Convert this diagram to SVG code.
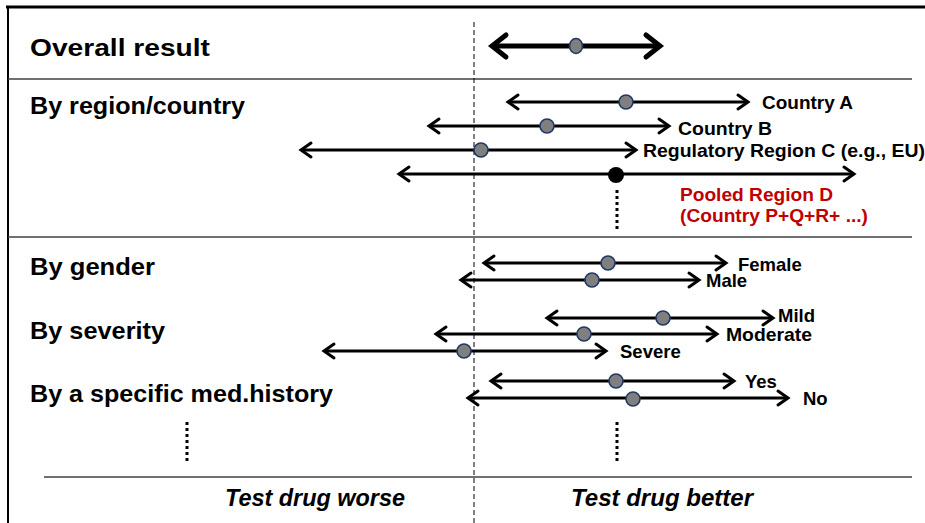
<svg xmlns="http://www.w3.org/2000/svg" width="925" height="523" viewBox="0 0 925 523">
<defs>
<style>
.lbl{font-family:"Liberation Sans",Arial,sans-serif;font-weight:bold;font-size:24px;fill:#000}
.rl{font-family:"Liberation Sans",Arial,sans-serif;font-weight:bold;font-size:18.5px;fill:#000}
.red{fill:#C00000}
.ax{font-family:"Liberation Sans",Arial,sans-serif;font-weight:bold;font-style:italic;font-size:23px;fill:#000}
.ci{stroke:#000;stroke-width:3;fill:none;marker-start:url(#h);marker-end:url(#h)}
.big{stroke:#000;stroke-width:5;fill:none;marker-start:url(#hb);marker-end:url(#hb)}
.dot{fill:#7F7F7F;stroke:#1F3864;stroke-width:1.6}
.sep{stroke:#404040;stroke-width:1.5}
.dots{stroke:#000;stroke-width:3;stroke-dasharray:3 3}
</style>
<marker id="h" markerUnits="userSpaceOnUse" viewBox="-12 -10 14 20" refX="0" refY="0" markerWidth="14" markerHeight="20" orient="auto-start-reverse" overflow="visible">
<path d="M-10,-7 L0,0 L-10,7" fill="none" stroke="#000" stroke-width="3" stroke-linecap="round" stroke-linejoin="miter"/>
</marker>
<marker id="hb" markerUnits="userSpaceOnUse" viewBox="-18 -14 20 28" refX="0" refY="0" markerWidth="20" markerHeight="28" orient="auto-start-reverse" overflow="visible">
<path d="M-14,-11 L0,0 L-14,11" fill="none" stroke="#000" stroke-width="5" stroke-linecap="round"/>
</marker>
</defs>
<rect width="925" height="523" fill="#fff"/>
<g id="frame">
<line x1="6" y1="7" x2="925" y2="7" stroke="#000" stroke-width="3"/>
<line x1="8" y1="6" x2="8" y2="523" stroke="#000" stroke-width="2"/>
<line class="sep" x1="8" y1="79" x2="912" y2="79"/>
<line class="sep" x1="8" y1="237" x2="912" y2="237"/>
<line class="sep" x1="44" y1="477" x2="912" y2="477"/>
<line x1="474" y1="22" x2="474" y2="523" stroke="#000" stroke-width="1" stroke-dasharray="5 3"/>
</g>
<g id="labels">
<text class="lbl" x="30" y="56" font-size="26" textLength="180" lengthAdjust="spacingAndGlyphs">Overall result</text>
<text class="lbl" x="30" y="114" textLength="215" lengthAdjust="spacingAndGlyphs">By region/country</text>
<text class="lbl" x="30" y="275" textLength="125" lengthAdjust="spacingAndGlyphs">By gender</text>
<text class="lbl" x="30" y="339" textLength="135" lengthAdjust="spacingAndGlyphs">By severity</text>
<text class="lbl" x="30" y="402" textLength="303" lengthAdjust="spacingAndGlyphs">By a specific med.history</text>
<text class="ax" x="225" y="506" textLength="180" lengthAdjust="spacingAndGlyphs">Test drug worse</text>
<text class="ax" x="571" y="506" textLength="182" lengthAdjust="spacingAndGlyphs">Test drug better</text>
</g>
<g id="connectors">
<line class="big" x1="492" y1="46" x2="660" y2="46"/>
<line class="ci" x1="508" y1="102" x2="748" y2="102"/>
<line class="ci" x1="429" y1="126" x2="669" y2="126"/>
<line class="ci" x1="301" y1="150" x2="636" y2="150"/>
<line class="ci" x1="399" y1="174" x2="854" y2="174"/>
<line class="ci" x1="484" y1="263" x2="726" y2="263"/>
<line class="ci" x1="461" y1="280" x2="699" y2="280"/>
<line class="ci" x1="547" y1="318" x2="773" y2="318"/>
<line class="ci" x1="436" y1="334" x2="717" y2="334"/>
<line class="ci" x1="324" y1="351" x2="606" y2="351"/>
<line class="ci" x1="491" y1="381" x2="734" y2="381"/>
<line class="ci" x1="468" y1="398" x2="788" y2="398"/>
<line class="dots" x1="617" y1="190" x2="617" y2="232"/>
<line class="dots" x1="617" y1="422" x2="617" y2="463"/>
<line class="dots" x1="187" y1="422" x2="187" y2="463"/>
</g>
<g id="overall"><ellipse class="dot" cx="576" cy="46" rx="6.5" ry="7.5"/></g>
<g id="countryA"><circle class="dot" cx="626" cy="102" r="7"/><text class="rl" x="762" y="109" textLength="91" lengthAdjust="spacingAndGlyphs">Country A</text></g>
<g id="countryB"><circle class="dot" cx="547" cy="126" r="7"/><text class="rl" x="678" y="135" textLength="94" lengthAdjust="spacingAndGlyphs">Country B</text></g>
<g id="regionC"><circle class="dot" cx="481" cy="150" r="7"/><text class="rl" x="643" y="157" textLength="282" lengthAdjust="spacingAndGlyphs">Regulatory Region C (e.g., EU)</text></g>
<g id="regionD"><circle cx="616" cy="175" r="8" fill="#000"/><text class="rl red" x="680" y="201" textLength="153" lengthAdjust="spacingAndGlyphs">Pooled Region D</text><text class="rl red" x="680" y="222" textLength="188" lengthAdjust="spacingAndGlyphs">(Country P+Q+R+ ...)</text></g>
<g id="female"><circle class="dot" cx="608" cy="263" r="7"/><text class="rl" x="738" y="271">Female</text></g>
<g id="male"><circle class="dot" cx="592" cy="280" r="7"/><text class="rl" x="706" y="287">Male</text></g>
<g id="mild"><circle class="dot" cx="663" cy="318" r="7"/><text class="rl" x="778" y="322">Mild</text></g>
<g id="moderate"><circle class="dot" cx="584" cy="334" r="7"/><text class="rl" x="726" y="341" textLength="86" lengthAdjust="spacingAndGlyphs">Moderate</text></g>
<g id="severe"><circle class="dot" cx="464" cy="351" r="7"/><text class="rl" x="620" y="358">Severe</text></g>
<g id="yes"><circle class="dot" cx="616" cy="381" r="7"/><text class="rl" x="745" y="388">Yes</text></g>
<g id="no"><circle class="dot" cx="633" cy="399" r="7"/><text class="rl" x="803" y="405">No</text></g>
</svg>
